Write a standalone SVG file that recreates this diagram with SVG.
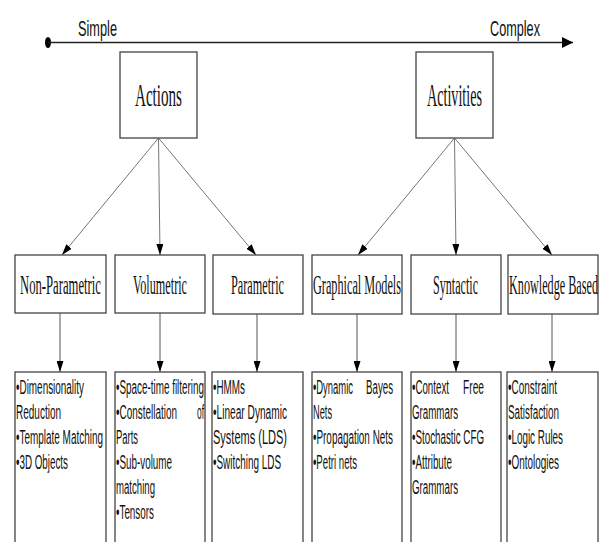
<svg xmlns="http://www.w3.org/2000/svg" width="600" height="542" viewBox="0 0 600 542">
<style>
.box{fill:#fff;stroke:#444;stroke-width:1.3}
.serif{font-family:"Liberation Serif","Times New Roman",serif;fill:#111}
.big{font-size:32px}
.mid{font-size:27px}
.sans{font-family:"Liberation Sans",Arial,sans-serif;fill:#111}
.axislbl{font-size:22px}
.item{font-size:20px}
.conn{stroke:#777;stroke-width:1;fill:none}
.down{stroke:#555;stroke-width:1;fill:none}
</style>
<defs>
<marker id="ah" markerUnits="userSpaceOnUse" markerWidth="11" markerHeight="7" refX="11" refY="3.5" orient="auto">
<path d="M0,0 L11,3.5 L0,7 z" fill="#000"/>
</marker>
<marker id="axh" markerUnits="userSpaceOnUse" markerWidth="11" markerHeight="11" refX="11" refY="5.5" orient="auto">
<path d="M0,0 L11,5.5 L0,11 z" fill="#000"/>
</marker>
</defs>

<g id="axis">
<ellipse cx="48" cy="42.5" rx="3" ry="5.5" fill="#000"/>
<line x1="48" y1="42.5" x2="573" y2="42.5" stroke="#222" stroke-width="1.5" marker-end="url(#axh)"/>
<text class="sans axislbl" x="78" y="36" textLength="39" lengthAdjust="spacingAndGlyphs">Simple</text>
<text class="sans axislbl" x="490" y="36" textLength="50" lengthAdjust="spacingAndGlyphs">Complex</text>
</g>

<g id="connectors">
<line class="conn" x1="158.5" y1="138" x2="62" y2="255" marker-end="url(#ah)"/>
<line class="conn" x1="158.5" y1="138" x2="160" y2="255" marker-end="url(#ah)"/>
<line class="conn" x1="158.5" y1="138" x2="256" y2="255" marker-end="url(#ah)"/>
<line class="conn" x1="454.5" y1="138" x2="358" y2="255" marker-end="url(#ah)"/>
<line class="conn" x1="454.5" y1="138" x2="456" y2="255" marker-end="url(#ah)"/>
<line class="conn" x1="454.5" y1="138" x2="552" y2="255" marker-end="url(#ah)"/>
<line class="down" x1="60" y1="313" x2="60" y2="372" marker-end="url(#ah)"/>
<line class="down" x1="160" y1="313" x2="160" y2="372" marker-end="url(#ah)"/>
<line class="down" x1="257" y1="314" x2="257" y2="372" marker-end="url(#ah)"/>
<line class="down" x1="357" y1="314" x2="357" y2="372" marker-end="url(#ah)"/>
<line class="down" x1="456" y1="314" x2="456" y2="372" marker-end="url(#ah)"/>
<line class="down" x1="552" y1="314" x2="552" y2="372" marker-end="url(#ah)"/>
</g>

<g id="actions">
<rect class="box" x="120" y="52" width="77" height="86"/>
<text class="serif big" x="135" y="106" textLength="47" lengthAdjust="spacingAndGlyphs">Actions</text>
</g>
<g id="activities">
<rect class="box" x="416" y="52" width="77" height="86"/>
<text class="serif big" x="427" y="106" textLength="55" lengthAdjust="spacingAndGlyphs">Activities</text>
</g>

<g id="non-parametric">
<rect class="box" x="15" y="255" width="91" height="58"/>
<text class="serif mid" x="20" y="294" textLength="81" lengthAdjust="spacingAndGlyphs">Non-Parametric</text>
</g>
<g id="volumetric">
<rect class="box" x="115" y="255" width="90" height="58"/>
<text class="serif mid" x="133" y="294" textLength="54" lengthAdjust="spacingAndGlyphs">Volumetric</text>
</g>
<g id="parametric">
<rect class="box" x="213" y="255" width="90" height="59"/>
<text class="serif mid" x="231" y="294" textLength="53" lengthAdjust="spacingAndGlyphs">Parametric</text>
</g>
<g id="graphical-models">
<rect class="box" x="312" y="255" width="90" height="59"/>
<text class="serif mid" x="313" y="294" textLength="88" lengthAdjust="spacingAndGlyphs">Graphical Models</text>
</g>
<g id="syntactic">
<rect class="box" x="411" y="255" width="90" height="59"/>
<text class="serif mid" x="433" y="294" textLength="45" lengthAdjust="spacingAndGlyphs">Syntactic</text>
</g>
<g id="knowledge-based">
<rect class="box" x="508" y="255" width="90" height="59"/>
<text class="serif mid" x="509" y="294" textLength="89" lengthAdjust="spacingAndGlyphs">Knowledge Based</text>
</g>

<g id="list-non-parametric">
<rect class="box" x="15" y="372" width="91" height="180"/>
<text class="sans item" x="16" y="394" textLength="68" lengthAdjust="spacingAndGlyphs">•Dimensionality</text>
<text class="sans item" x="16" y="419" textLength="45" lengthAdjust="spacingAndGlyphs">Reduction</text>
<text class="sans item" x="16" y="444" textLength="87" lengthAdjust="spacingAndGlyphs">•Template Matching</text>
<text class="sans item" x="16" y="469" textLength="52" lengthAdjust="spacingAndGlyphs">•3D Objects</text>
</g>
<g id="list-volumetric">
<rect class="box" x="115" y="372" width="90" height="180"/>
<text class="sans item" x="116" y="394" textLength="88" lengthAdjust="spacingAndGlyphs">•Space-time filtering</text>
<text class="sans item" x="116" y="419" textLength="61" lengthAdjust="spacingAndGlyphs">•Constellation</text>
<text class="sans item" x="197" y="419" textLength="7" lengthAdjust="spacingAndGlyphs">of</text>
<text class="sans item" x="116" y="444" textLength="22" lengthAdjust="spacingAndGlyphs">Parts</text>
<text class="sans item" x="116" y="469" textLength="56" lengthAdjust="spacingAndGlyphs">•Sub-volume</text>
<text class="sans item" x="116" y="494" textLength="39" lengthAdjust="spacingAndGlyphs">matching</text>
<text class="sans item" x="116" y="519" textLength="38" lengthAdjust="spacingAndGlyphs">•Tensors</text>
</g>
<g id="list-parametric">
<rect class="box" x="212" y="372" width="91" height="180"/>
<text class="sans item" x="213" y="394" textLength="32" lengthAdjust="spacingAndGlyphs">•HMMs</text>
<text class="sans item" x="213" y="419" textLength="74" lengthAdjust="spacingAndGlyphs">•Linear  Dynamic</text>
<text class="sans item" x="213" y="444" textLength="74" lengthAdjust="spacingAndGlyphs">Systems (LDS)</text>
<text class="sans item" x="213" y="469" textLength="68" lengthAdjust="spacingAndGlyphs">•Switching LDS</text>
</g>
<g id="list-graphical-models">
<rect class="box" x="312" y="372" width="90" height="180"/>
<text class="sans item" x="313" y="394" textLength="40" lengthAdjust="spacingAndGlyphs">•Dynamic</text>
<text class="sans item" x="366" y="394" textLength="27" lengthAdjust="spacingAndGlyphs">Bayes</text>
<text class="sans item" x="313" y="419" textLength="19" lengthAdjust="spacingAndGlyphs">Nets</text>
<text class="sans item" x="313" y="444" textLength="80" lengthAdjust="spacingAndGlyphs">•Propagation Nets</text>
<text class="sans item" x="313" y="469" textLength="44" lengthAdjust="spacingAndGlyphs">•Petri nets</text>
</g>
<g id="list-syntactic">
<rect class="box" x="411" y="372" width="90" height="180"/>
<text class="sans item" x="412" y="394" textLength="37" lengthAdjust="spacingAndGlyphs">•Context</text>
<text class="sans item" x="463" y="394" textLength="21" lengthAdjust="spacingAndGlyphs">Free</text>
<text class="sans item" x="412" y="419" textLength="46" lengthAdjust="spacingAndGlyphs">Grammars</text>
<text class="sans item" x="412" y="444" textLength="72" lengthAdjust="spacingAndGlyphs">•Stochastic CFG</text>
<text class="sans item" x="412" y="469" textLength="40" lengthAdjust="spacingAndGlyphs">•Attribute</text>
<text class="sans item" x="412" y="494" textLength="46" lengthAdjust="spacingAndGlyphs">Grammars</text>
</g>
<g id="list-knowledge-based">
<rect class="box" x="507" y="372" width="91" height="180"/>
<text class="sans item" x="508" y="394" textLength="49" lengthAdjust="spacingAndGlyphs">•Constraint</text>
<text class="sans item" x="508" y="419" textLength="51" lengthAdjust="spacingAndGlyphs">Satisfaction</text>
<text class="sans item" x="508" y="444" textLength="55" lengthAdjust="spacingAndGlyphs">•Logic Rules</text>
<text class="sans item" x="508" y="469" textLength="51" lengthAdjust="spacingAndGlyphs">•Ontologies</text>
</g>
</svg>
